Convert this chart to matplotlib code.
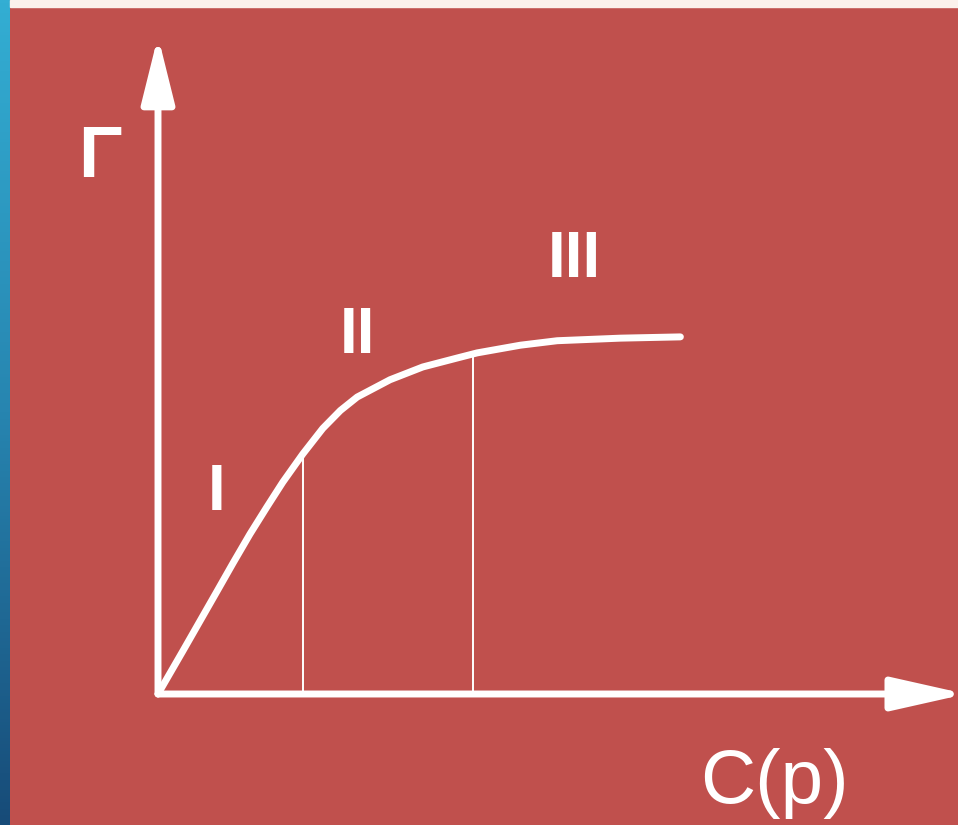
import numpy as np
import matplotlib.pyplot as plt
from matplotlib.patches import Rectangle
from matplotlib.colors import LinearSegmentedColormap

# adsorption isotherm (arbitrary units)
conc = [0.0, 0.31, 0.525, 0.74, 0.94, 1.15, 1.36, 1.56, 1.81, 2.06, 2.28,
        2.49, 2.90, 3.31, 3.74, 3.99, 4.53, 4.99, 5.78, 6.53]
gamma = [0.0, 0.67, 1.14, 1.61, 2.05, 2.50, 2.92, 3.31, 3.75, 4.15, 4.43,
         4.64, 4.91, 5.11, 5.25, 5.33, 5.45, 5.52, 5.56, 5.58]
# region boundaries on the concentration axis
bounds = [1.81, 3.94]
region_labels = ['I', 'II', 'III']
region_pos = [(0.73, 2.88), (2.49, 5.33), (5.21, 6.52)]

RED = '#C0504D'
W = 'white'

fig = plt.figure(figsize=(9.58, 8.25), dpi=100, facecolor=RED)

# blue strip on the left
strip = fig.add_axes([0, 0, 9.5 / 958, 1])
grad = np.linspace(0, 1, 256).reshape(-1, 1)
cm = LinearSegmentedColormap.from_list('strip', ['#33AED3', '#2785B0', '#174B78'])
strip.imshow(grad, aspect='auto', cmap=cm, extent=[0, 1, 0, 1])
strip.set_axis_off()

# thin light band along the top
fig.patches.append(Rectangle((9.5 / 958, 1 - 7 / 825), 1, 7 / 825,
                             transform=fig.transFigure, color='#FBF1EC', zorder=0))

ax = fig.add_axes([9.5 / 958, 0, 1 - 9.5 / 958, 1 - 7 / 825])
ax.set_facecolor(RED)
# 1 unit = 80 px horizontally, 64 px vertically, origin at pixel (158, 694)
ax.set_xlim((9.5 - 158) / 80, (958 - 158) / 80)
ax.set_ylim((694 - 825) / 64, (694 - 7) / 64)
ax.set_axis_off()

# axes with arrows
ax.annotate('', xy=(10.1, 0), xytext=(0, 0), annotation_clip=False,
            arrowprops=dict(arrowstyle='-|>,head_length=3.2,head_width=0.72',
                            mutation_scale=14, lw=5, color=W,
                            shrinkA=0, shrinkB=0))
ax.annotate('', xy=(0, 10.28), xytext=(0, 0), annotation_clip=False,
            arrowprops=dict(arrowstyle='-|>,head_length=2.9,head_width=0.72',
                            mutation_scale=14, lw=5, color=W,
                            shrinkA=0, shrinkB=0))

# isotherm
ax.plot(conc, gamma, color=W, lw=5, solid_capstyle='round',
        solid_joinstyle='round')

# region boundaries
for b in bounds:
    ax.plot([b, b], [0, np.interp(b, conc, gamma)], color=W, lw=1.4)

for lab, (x, y) in zip(region_labels, region_pos):
    ax.text(x, y, lab, color=W, fontsize=46, fontweight='bold',
            family='Liberation Sans', ha='center', va='baseline')

ax.text(-1.0, 8.08, 'Γ', color=W, fontsize=52, fontweight='bold',
        family='Liberation Sans', ha='left', va='baseline')
ax.text(6.78, -1.70, 'C(p)', color=W, fontsize=55, family='Liberation Sans',
        ha='left', va='baseline')

fig.savefig('out.png', dpi=100, facecolor=RED)
